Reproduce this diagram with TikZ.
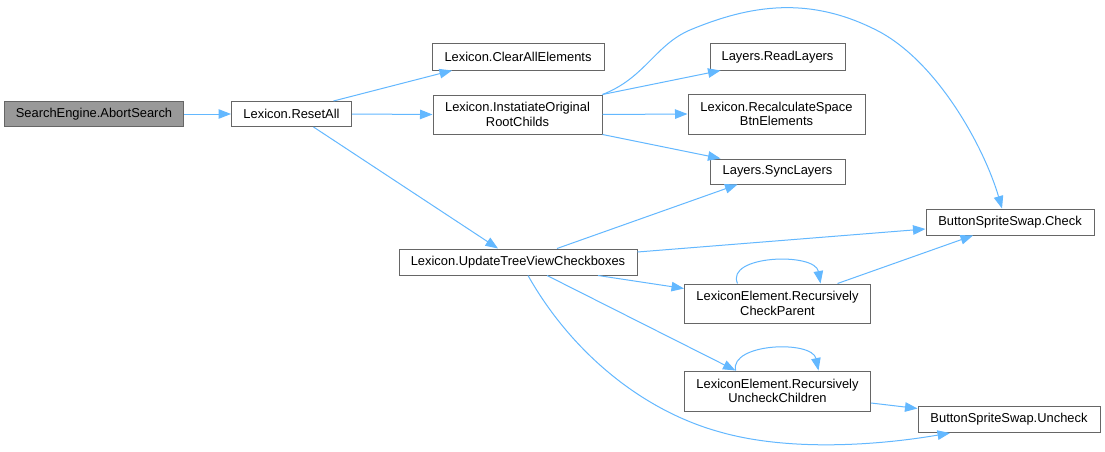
\documentclass[tikz,border=0pt]{standalone}
\usepackage{fontspec}
\setmainfont{Liberation Sans}
\usetikzlibrary{arrows.meta}
\definecolor{edgec}{HTML}{63B8FF}
\definecolor{borderc}{HTML}{666666}
\definecolor{fillc}{HTML}{999999}
\begin{document}
\begin{tikzpicture}[x=1pt,y=-1pt,
  box/.style={draw=borderc, line width=1pt, fill=white, inner sep=0pt, align=center,
    font=\fontsize{12.9}{14.5}\selectfont},
  edge/.style={draw=edgec, line width=1pt, -{Triangle[length=12.5pt,width=9.5pt]}}]
\useasboundingbox[fill=white] (0,0) rectangle (1105,452);
\node[box, fill=fillc, minimum width=179pt, minimum height=25pt] (abort) at (94,114) {SearchEngine.AbortSearch};
\node[box, minimum width=120pt, minimum height=25pt] (reset) at (291.5,114) {Lexicon.ResetAll};
\node[box, minimum width=172pt, minimum height=26pt] (clear) at (518,57) {Lexicon.ClearAllElements};
\node[box, minimum width=169pt, minimum height=39pt] (inst) at (517.5,114.5) {Lexicon.InstatiateOriginal\\RootChilds};
\node[box, minimum width=135pt, minimum height=26pt] (read) at (777.5,57) {Layers.ReadLayers};
\node[box, minimum width=177pt, minimum height=40pt] (recalc) at (776.5,114) {Lexicon.RecalculateSpace\\BtnElements};
\node[box, minimum width=135pt, minimum height=25pt] (sync) at (777.5,171.5) {Layers.SyncLayers};
\node[box, minimum width=168pt, minimum height=26pt] (check) at (1010,222) {ButtonSpriteSwap.Check};
\node[box, minimum width=238pt, minimum height=26pt] (update) at (518,262) {Lexicon.UpdateTreeViewCheckboxes};
\node[box, minimum width=186pt, minimum height=39pt] (cparent) at (777.5,303.5) {LexiconElement.Recursively\\CheckParent};
\node[box, minimum width=186pt, minimum height=40pt] (uchild) at (777.5,391) {LexiconElement.Recursively\\UncheckChildren};
\node[box, minimum width=182pt, minimum height=26pt] (uncheck) at (1009,419.5) {ButtonSpriteSwap.Uncheck};

\draw[edge] (abort.east) -- (reset.west);
\draw[edge] ([xshift=42pt]reset.north) -- ([xshift=-66pt]clear.south);
\draw[edge] (reset.east) -- (inst.west);
\draw[edge] ([xshift=22pt]reset.south) -- ([xshift=-20pt]update.north);
\draw[edge] (inst.north east) .. controls (645,78) and (655,45) .. (690,30)
  .. controls (750,5) and (810,-5) .. (880,32)
  .. controls (940,65) and (985,150) .. ([xshift=-8pt]check.north);
\draw[edge] (inst.north east) -- ([xshift=-57pt]read.south);
\draw[edge] (inst.east) -- (recalc.west);
\draw[edge] (inst.south east) -- ([xshift=-57pt]sync.north);
\draw[edge] ([xshift=39pt]update.north) -- ([xshift=-40pt]sync.south);
\draw[edge] ([yshift=10pt]update.east) -- ([yshift=-7pt]check.west);
\draw[edge] ([xshift=80pt]update.south) -- ([yshift=15pt]cparent.west);
\draw[edge] ([xshift=29pt]update.south) -- ([xshift=-42pt]uchild.north);
\draw[edge] ([xshift=10pt]update.south) .. controls (570,350) and (640,410) .. (720,432)
  .. controls (790,452) and (880,445) .. ([xshift=-59pt]uncheck.south);
\draw[edge] ([xshift=-40pt]cparent.north) .. controls (725,255) and (815,252) .. ([xshift=43pt]cparent.north);
\draw[edge] ([xshift=60pt]cparent.north) -- ([xshift=-37pt]check.south);
\draw[edge] ([xshift=-42pt]uchild.north) .. controls (730,343) and (812,340) .. ([xshift=41pt]uchild.north);
\draw[edge] ([yshift=-12pt]uchild.east) -- ([yshift=11pt]uncheck.west);
\end{tikzpicture}
\end{document}
